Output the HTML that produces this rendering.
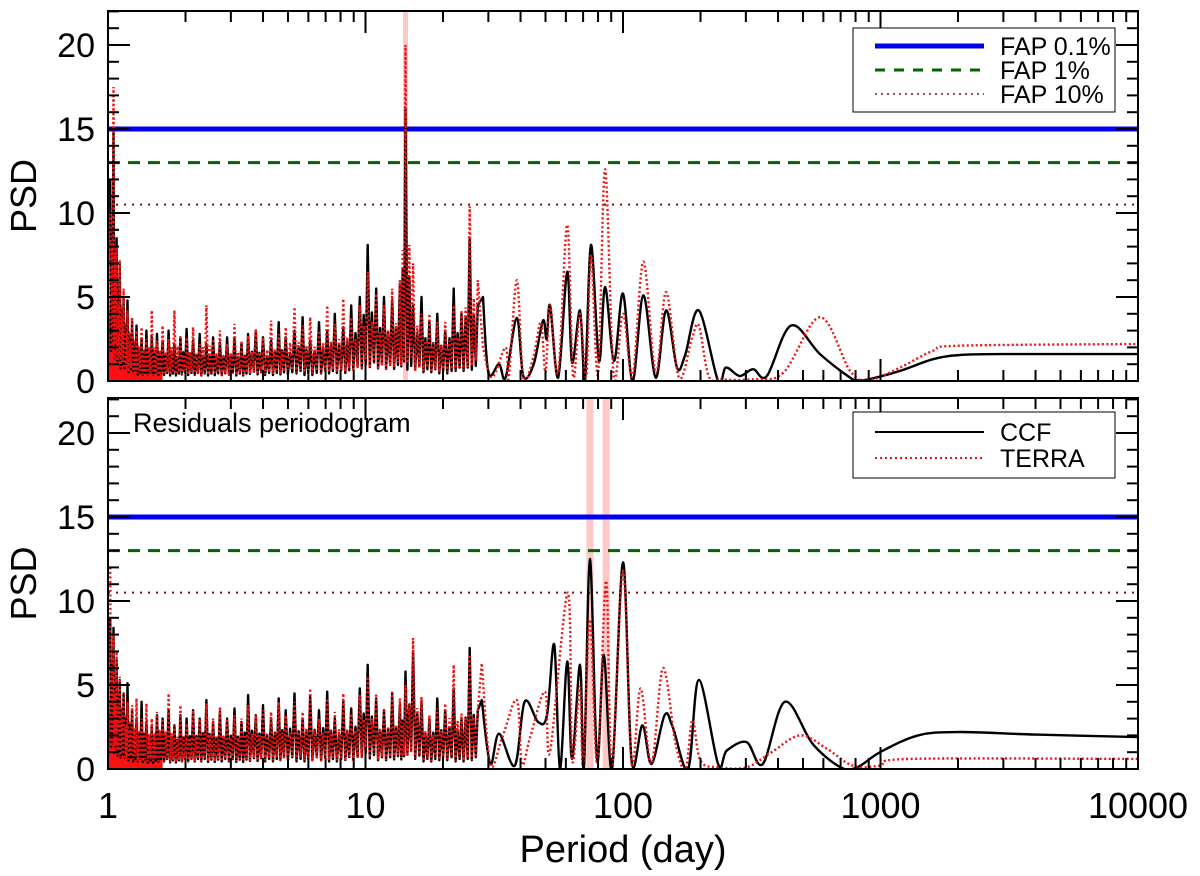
<!DOCTYPE html>
<html><head><meta charset="utf-8"><style>
html,body{margin:0;padding:0;background:#fff;}
svg{display:block;font-family:"Liberation Sans",sans-serif;}
</style></head><body>
<svg id="chart" width="1200" height="876" viewBox="0 0 1200 876" xmlns="http://www.w3.org/2000/svg">
<defs>
<clipPath id="clipTop"><rect x="108" y="11" width="1030" height="371"/></clipPath>
<clipPath id="clipBot"><rect x="108" y="398" width="1030" height="371"/></clipPath>
</defs>
<g id="layer"></g>
</svg>
<script>
// ---- data ----
const noisePeriods=[1.02,1.05,1.08,1.11,1.15,1.19,1.24,1.29,1.35,1.41,1.48,1.55,1.63,1.72,1.81,1.91,2.02,2.14,2.27,2.41,2.56,2.72,2.9,3.1,3.3,3.5,3.75,4.0,4.3,4.6,4.9,5.3,5.7,6.1,6.6,7.1,7.6,8.2,8.8,9.5,10.2,11.0,11.8,12.7,13.6,14.3,15.3,16.5,17.7,19.0,20.4,22.0,23.6,25.4,27.3];
const topCcfNoise=[12,15,8.5,7,5,4.8,3.5,3.3,2.5,3,2.6,2.8,2.4,3,2.2,2.6,3.1,2.4,2.8,2.2,2.6,2.3,2.6,2.5,2.2,2.8,3.0,2.6,2.4,3.5,2.6,3.0,3.8,2.4,3.5,3.0,4.0,3.2,4.5,5.0,8.1,5.5,5.0,4.8,5.8,16.2,4.5,5.0,3.5,4.0,3.0,5.5,4.0,8.5,4.5];
const topTerraNoise=[10,17.5,8,7.2,5.5,4.2,3.8,3.0,3.2,2.5,4.2,2.4,3.3,2.5,4.2,2.7,2.6,3.2,2.2,4.5,2.5,3.0,2.2,3.4,2.4,2.7,3.1,2.6,3.6,2.8,3.2,4.4,3.3,3.8,3.0,4.5,3.4,4.9,3.8,4.5,6.5,5.2,4.5,5.5,6.0,20,7.0,4.0,4.0,3.5,3.5,4.5,4.2,10.4,6.0];
const botCcfNoise=[9,8.4,6.5,5.3,4.5,5.1,3.5,3.0,4.0,2.8,2.5,3.2,3.0,3.5,2.6,3.2,3.0,3.5,3.0,4.1,2.8,3.4,3.0,3.6,2.8,4.4,3.2,3.8,3.0,4.2,3.5,4.5,3.0,4.3,3.5,4.6,3.0,4.0,3.6,4.8,6.2,4.2,3.5,4.5,3.8,5.8,7.0,4.0,3.0,4.2,3.5,4.8,3.0,7.2,3.5];
const botTerraNoise=[12,8,7,5.5,4.5,4.0,3.8,4.2,3.0,3.9,3.0,3.4,3.0,4.5,2.6,3.8,2.7,3.5,3.0,3.9,3.0,3.7,3.0,3.2,3.0,3.8,3.2,3.5,3.4,4.0,3.2,4.0,3.4,4.8,3.0,4.2,3.4,4.5,3.3,4.4,5.5,4.5,3.6,4.6,4.2,5.0,7.8,4.3,3.2,3.6,3.9,6.2,3.3,6.8,3.5];
const topCcfPeriods=[28.6,30,33,35,38.7,41,45,48.9,50.5,52.1,56,60.7,63.4,68.1,71.2,75.1,80.7,85.2,92.3,100,109,120,134,147,162,174,197,234,251,284,320,362,449,582,762,818,900,1190,1600,2035,2910,10000];
const topCcfValues=[5,0.5,1.0,0.2,3.75,0.3,1.0,3.6,2.5,4.5,0.2,6.5,1.1,4.2,0,8.1,1.2,5.6,1.2,5.2,0,5.1,0.2,4.2,0.8,1.5,4.2,0,0.8,0.3,0.7,0.3,3.3,1.6,0.2,0.05,0.1,0.6,1.3,1.55,1.6,1.6];
const topTerraPeriods=[28.6,31,35,36,38.7,41,45,48,50,52.1,56,60.7,64,68,72,75.1,80,85.2,92,100,109,120,134,147,165,185,197,215,240,320,420,582,762,900,1190,1600,2035,10000];
const topTerraValues=[2,0.2,2.0,0.2,6.0,0.2,1.5,3.5,0.5,4.5,0.5,9.3,0.3,4,0.3,7.5,0.4,12.6,0.3,4,0.3,7.1,0.5,5.3,0.2,2.5,3.3,0.3,0.1,0.1,0.5,3.8,0.6,0.05,0.8,1.8,2.1,2.2];
const botCcfPeriods=[28.3,30.5,33,38,41.5,46.8,50.7,54.1,56.9,60.7,63.4,68.1,70.5,74.4,79.3,84.2,90.7,100,108,119,129,145,156,179,197,234,253,302,349,425,545,700,812,996,1400,2035,4000,10000];
const botCcfValues=[4.1,0.3,2.1,0.2,4.0,2.8,3.2,7.4,0,6.4,0.6,6.2,0,12.5,0.5,6.8,0,12.3,0.5,2.6,0.3,3.2,2.5,0,5.3,0.3,1.1,1.6,0.3,4.0,1.5,0.1,0.1,1.0,2.0,2.2,2.05,1.9];
const botTerraPeriods=[28.3,30.5,34,38.7,40.5,43.6,49.8,52,61.1,63.5,68,70,74.4,79.5,86,90.5,100,108,117,129,143,160,175,186,200,234,302,378,488,620,780,996,1300,10000];
const botTerraValues=[6.3,0.3,1.9,4.1,0.3,1.9,4.6,1.0,10.5,0.5,4.9,0.2,8.9,0.3,11.2,0.2,11.8,0.3,4.8,0.3,6.0,1.5,0.0,2.9,0.5,0.1,0.1,1.0,2.0,1.2,0.2,0.2,0.6,0.6];
const yTickLabels=["0","5","10","15","20"];
const xTickLabels=["1","10","100","1000","10000"];
const fapLevels=[15,13,10.5];
const topBands=[14.3];
const botBands=[74.4,86];

// ---- axes ----
const X0=108,X1=1138,DEC=257.5,PXU=16.8;
const panels=[{name:'top',top:11,base:381,clip:'clipTop'},{name:'bottom',top:398,base:769,clip:'clipBot'}];
const px=p=>X0+Math.log10(p)*DEC;
const NS='http://www.w3.org/2000/svg';
const layer=document.getElementById('layer');
function mk(tag,attrs,parent){const e=document.createElementNS(NS,tag);for(const k in attrs)e.setAttribute(k,attrs[k]);(parent||layer).appendChild(e);return e;}

function zigPath(periods,vals,py){
  let d='';
  for(let i=0;i<periods.length;i++){
    const x=px(periods[i]);
    d+=(i?'L':'M')+x.toFixed(1)+','+py(vals[i]).toFixed(1);
    if(i<periods.length-1){
      const a=periods[i],b=periods[i+1],lo=Math.min(vals[i],vals[i+1]);
      const r=b/a;
      d+='L'+px(a*Math.pow(r,0.25)).toFixed(1)+','+py(lo*0.15).toFixed(1);
      d+='L'+px(a*Math.pow(r,0.5)).toFixed(1)+','+py((vals[i]+vals[i+1])*0.3).toFixed(1);
      d+='L'+px(a*Math.pow(r,0.75)).toFixed(1)+','+py(lo*0.2).toFixed(1);
    }
  }
  return d;
}
function smoothPath(periods,vals,py,start){
  const pts=periods.map((p,i)=>[px(p),py(vals[i])]);
  let d=(start?'L':'M')+pts[0][0].toFixed(1)+','+pts[0][1].toFixed(1);
  for(let i=0;i<pts.length-1;i++){
    const p0=pts[Math.max(0,i-1)],p1=pts[i],p2=pts[i+1],p3=pts[Math.min(pts.length-1,i+2)];
    const c1=[p1[0]+(p2[0]-p0[0])/6,p1[1]+(p2[1]-p0[1])/6];
    const c2=[p2[0]-(p3[0]-p1[0])/6,p2[1]-(p3[1]-p1[1])/6];
    d+='C'+c1[0].toFixed(1)+','+c1[1].toFixed(1)+' '+c2[0].toFixed(1)+','+c2[1].toFixed(1)+' '+p2[0].toFixed(1)+','+p2[1].toFixed(1);
  }
  return d;
}

panels.forEach((pn,pi)=>{
  const py=v=>pn.base-v*PXU;
  const g=mk('g',{});
  
  
  const pg=mk('g',{'clip-path':'url(#'+pn.clip+')'},g);
  (pi===0?topBands:botBands).forEach(b=>{
    const r=mk('rect',{x:px(b)-(pi===0?2.5:3.5),y:pn.top,width:pi===0?5:7,height:pn.base-pn.top,fill:'#ffc8c8'},pg);
    
    
  });
  const fs=[{c:'#0000ee',w:5,da:''},{c:'#006400',w:3,da:'12,8'},{c:'#7a1010',w:2,da:'2,6'}];
  fapLevels.forEach((lv,i)=>{
    const l=mk('line',{x1:X0,x2:X1,y1:py(lv),y2:py(lv),stroke:fs[i].c,'stroke-width':fs[i].w,'stroke-dasharray':fs[i].da},pg);
    
    
  });
  const cN=pi===0?topCcfNoise:botCcfNoise, tN=pi===0?topTerraNoise:botTerraNoise;
  const cP=pi===0?topCcfPeriods:botCcfPeriods, cV=pi===0?topCcfValues:botCcfValues;
  const tP=pi===0?topTerraPeriods:botTerraPeriods, tV=pi===0?topTerraValues:botTerraValues;
  let fd='M'+X0+','+pn.base;
  for(let i=0;i<13;i++){fd+='L'+px(noisePeriods[i]).toFixed(1)+','+py(Math.min(tN[i],cN[i])*0.75).toFixed(1);}
  fd+='L'+px(noisePeriods[12]).toFixed(1)+','+pn.base+'Z';
  const fill=mk('path',{d:fd,fill:'#ff1010'},pg);
  
  
  const cc=mk('path',{d:zigPath(noisePeriods,cN,py)+smoothPath(cP,cV,py,true),fill:'none',stroke:'#000','stroke-width':2.4,'stroke-linejoin':'round'},pg);
  
  
  const tt=mk('path',{d:zigPath(noisePeriods,tN,py)+smoothPath(tP,tV,py,true),fill:'none',stroke:'#ee1111','stroke-width':2.4,'stroke-dasharray':'2,2.5'},pg);
  
  
  const fr=mk('rect',{x:X0,y:pn.top,width:X1-X0,height:pn.base-pn.top,fill:'none',stroke:'#000','stroke-width':2},g);
  
  
  for(let v=0;v<=22;v++){
    const L=v%5===0?22:11;
    mk('line',{x1:X0,x2:X0+L,y1:py(v),y2:py(v),stroke:'#000','stroke-width':2},g);
    mk('line',{x1:X1,x2:X1-L,y1:py(v),y2:py(v),stroke:'#000','stroke-width':2},g);
  }
  yTickLabels.forEach((t,i)=>{
    const tx=mk('text',{x:95,y:py(i*5)+12,'text-anchor':'end','font-size':34},g);
    tx.textContent=t;
    
    
  });
  for(let dcd=0;dcd<4;dcd++)for(let m=1;m<10;m++){
    const x=px(Math.pow(10,dcd)*m);const L=m===1?22:11;
    mk('line',{x1:x,x2:x,y1:pn.base,y2:pn.base-L,stroke:'#000','stroke-width':2},g);
    mk('line',{x1:x,x2:x,y1:pn.top,y2:pn.top+L,stroke:'#000','stroke-width':2},g);
  }
  const yl=mk('text',{x:0,y:0,transform:'translate(36,'+((pn.top+pn.base)/2)+') rotate(-90)','text-anchor':'middle','font-size':36},g);
  yl.textContent='PSD';
  
  
});
xTickLabels.forEach((t,i)=>{
  const tx=mk('text',{x:X0+i*DEC,y:818,'text-anchor':'middle','font-size':36});
  tx.textContent=t;
  
  
});
const xt=mk('text',{x:623,y:862,'text-anchor':'middle','font-size':38});
xt.textContent='Period (day)';


const rt=mk('text',{x:133,y:432,'font-size':27});
rt.textContent='Residuals periodogram';


const lg1=mk('g',{});


mk('rect',{x:853,y:28,width:262,height:84,fill:'#fff',stroke:'#000','stroke-width':1},lg1);
[['FAP 0.1%','#0000ee',5,''],['FAP 1%','#006400',3,'10,9'],['FAP 10%','#7a1010',1.5,'2,4']].forEach((e,i)=>{
  const y=46+i*24;
  mk('line',{x1:875,x2:984,y1:y,y2:y,stroke:e[1],'stroke-width':e[2],'stroke-dasharray':e[3]},lg1);
  const t=mk('text',{x:1000,y:y+9,'font-size':25},lg1);t.textContent=e[0];
  
  
});
const lg2=mk('g',{});


mk('rect',{x:853,y:412,width:262,height:66,fill:'#fff',stroke:'#000','stroke-width':1},lg2);
[['CCF','#000',2,''],['TERRA','#ee1111',2,'2,3']].forEach((e,i)=>{
  const y=432+i*26;
  mk('line',{x1:875,x2:984,y1:y,y2:y,stroke:e[1],'stroke-width':e[2],'stroke-dasharray':e[3]},lg2);
  const t=mk('text',{x:1000,y:y+9,'font-size':25},lg2);t.textContent=e[0];
  
  
});
</script>
</body></html>
